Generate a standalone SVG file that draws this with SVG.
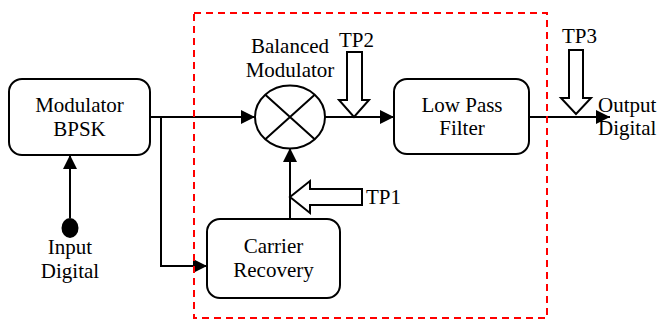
<svg xmlns="http://www.w3.org/2000/svg" width="658" height="320" viewBox="0 0 658 320">
<defs>
<marker id="ah" markerUnits="userSpaceOnUse" markerWidth="14" markerHeight="14" refX="14" refY="7" orient="auto">
<path d="M0,0 L14,7 L0,14 z" fill="#000"/>
</marker>
<style>
.box{fill:#fff;stroke:#000;stroke-width:2}
.ln{fill:none;stroke:#000;stroke-width:2}
text{font-family:"Liberation Serif","Times New Roman",Times,"Noto Serif","DejaVu Serif",serif;font-size:21px;fill:#000}
.c{text-anchor:middle}
.tp{fill:#fff;stroke:#000;stroke-width:2;stroke-linejoin:miter}
</style>
</defs>
<rect width="658" height="320" fill="#fff"/>
<g id="connectors">
<path class="ln" d="M150,117 H255" marker-end="url(#ah)"/>
<path class="ln" d="M161,117 V266 H207" marker-end="url(#ah)"/>
<path class="ln" d="M70,218 V155" marker-end="url(#ah)"/>
<path class="ln" d="M290,219 V148" marker-end="url(#ah)"/>
<path class="ln" d="M325,117 H394" marker-end="url(#ah)"/>
<path class="ln" d="M529,117 H610" marker-end="url(#ah)"/>
</g>
<g id="modulator-bpsk">
<rect class="box" x="9" y="79" width="141" height="76" rx="13"/>
<text class="c" x="79.5" y="112">Modulator</text>
<text class="c" x="79.5" y="136">BPSK</text>
</g>
<g id="input-digital">
<ellipse cx="70" cy="228" rx="8.5" ry="10" fill="#000"/>
<text class="c" x="70" y="254">Input</text>
<text class="c" x="70" y="278">Digital</text>
</g>
<g id="balanced-modulator">
<ellipse class="box" cx="290" cy="117" rx="35" ry="31.5"/>
<path class="ln" d="M265.3,94.7 L314.7,139.3 M314.7,94.7 L265.3,139.3"/>
<text class="c" x="290" y="53">Balanced</text>
<text class="c" x="290" y="77">Modulator</text>
</g>
<g id="low-pass-filter">
<rect class="box" x="394" y="79" width="135" height="75" rx="13"/>
<text class="c" x="462" y="112">Low Pass</text>
<text class="c" x="462" y="135">Filter</text>
</g>
<g id="carrier-recovery">
<rect class="box" x="207" y="219" width="133" height="79" rx="13"/>
<text class="c" x="273.5" y="253">Carrier</text>
<text class="c" x="273.5" y="277">Recovery</text>
</g>
<g id="tp1">
<polygon class="tp" points="362,189 310,189 310,181 290,197 310,213 310,205 362,205"/>
<text x="366" y="204">TP1</text>
</g>
<g id="tp2">
<polygon class="tp" points="347,52 362,52 362,100 369,100 354,117 339,100 347,100"/>
<text x="339" y="47">TP2</text>
</g>
<g id="tp3">
<polygon class="tp" points="569,50 583,50 583,98 591,98 576,114 561,98 569,98"/>
<text x="562" y="43">TP3</text>
</g>
<g id="output-digital">
<text x="598" y="112">Output</text>
<text x="598" y="135">Digital</text>
</g>
<g id="boundary">
<rect x="194" y="13" width="353" height="305" fill="none" stroke="#f00" stroke-width="2" stroke-dasharray="7,5"/>
</g>
</svg>
